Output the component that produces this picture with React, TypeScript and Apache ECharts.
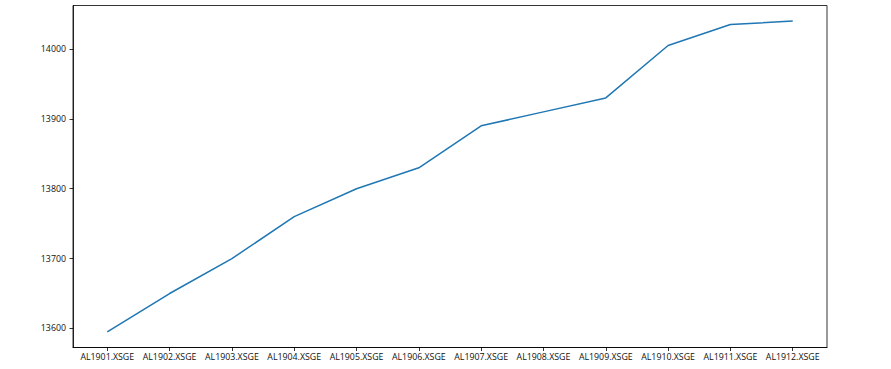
import React, { useEffect, useRef } from "react";
import * as echarts from "echarts";

const categories = [
  "AL1901.XSGE", "AL1902.XSGE", "AL1903.XSGE", "AL1904.XSGE", "AL1905.XSGE", "AL1906.XSGE",
  "AL1907.XSGE", "AL1908.XSGE", "AL1909.XSGE", "AL1910.XSGE", "AL1911.XSGE", "AL1912.XSGE",
];
const values = [13595, 13650, 13700, 13760, 13800, 13830, 13890, 13910, 13930, 14005, 14035, 14040];
const yTicks = [13600, 13700, 13800, 13900, 14000];

export default function App() {
  const ref = useRef<HTMLDivElement>(null);
  useEffect(() => {
    document.body.style.margin = "0";
    if (!ref.current) return;
    const chart = echarts.init(ref.current, null, { renderer: "svg" });
    const n = categories.length;
    const xPad = (n - 1) * 0.05;
    const yMinD = Math.min(...values);
    const yMaxD = Math.max(...values);
    const yPad = (yMaxD - yMinD) * 0.05;
    const font = "'Open Sans', sans-serif";
    chart.setOption({
      animation: false,
      grid: {
        left: 73, right: 64, top: 5.5, bottom: 21.5,
        show: true, borderColor: "#000", borderWidth: 0.8, backgroundColor: "transparent",
      },
      xAxis: {
        type: "value",
        min: -xPad,
        max: n - 1 + xPad,
        splitLine: { show: false },
        axisLine: { show: true, onZero: false, lineStyle: { color: "#000", width: 0.8 } },
        axisTick: {
          show: true, length: 3.5, inside: false,
          customValues: categories.map((_, i) => i),
          lineStyle: { color: "#000", width: 0.8 },
        },
        axisLabel: {
          customValues: categories.map((_, i) => i),
          formatter: (v: number) => categories[Math.round(v)] ?? "",
          fontFamily: font, fontSize: 8.8, color: "#111", margin: 5,
        },
      },
      yAxis: {
        type: "value",
        min: yMinD - yPad,
        max: yMaxD + yPad,
        splitLine: { show: false },
        axisLine: { show: true, onZero: false, lineStyle: { color: "#000", width: 0.8 } },
        axisTick: {
          show: true, length: 3.5, inside: false,
          customValues: yTicks,
          lineStyle: { color: "#000", width: 0.8 },
        },
        axisLabel: {
          customValues: yTicks,
          formatter: (v: number) => String(v),
          fontFamily: font, fontSize: 8.8, color: "#111", margin: 7,
        },
      },
      series: [
        {
          type: "line",
          data: values.map((v, i) => [i, v]),
          showSymbol: false,
          lineStyle: { color: "#1f77b4", width: 1.5 },
          itemStyle: { color: "#1f77b4" },
        },
      ],
    });
    return () => chart.dispose();
  }, []);
  return <div ref={ref} style={{ width: 891, height: 369 }} />;
}
